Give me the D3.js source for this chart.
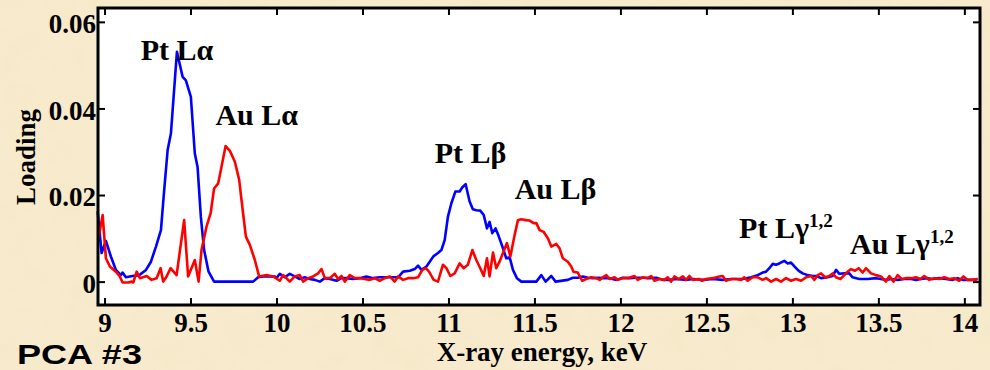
<!DOCTYPE html>
<html>
<head>
<meta charset="utf-8">
<script src="https://cdn.jsdelivr.net/npm/d3@7"></script>
<style>
  html, body { margin: 0; padding: 0; background: #f6e8c8; }
  svg { display: block; }
</style>
</head>
<body>
<div id="chart"></div>
<script>
// Pt (blue) loading: energy (keV) and loading value at each vertex
const ptEnergy = [8.960, 8.983, 9.008, 9.037, 9.066, 9.095, 9.105, 9.124, 9.163, 9.202, 9.241, 9.270, 9.299, 9.328, 9.347, 9.367, 9.386, 9.421, 9.454, 9.473, 9.502, 9.525, 9.541, 9.560, 9.579, 9.605, 9.637, 9.864, 9.893, 9.922, 9.961, 9.990, 10.000, 10.019, 10.048, 10.077, 10.106, 10.135, 10.164, 10.193, 10.223, 10.252, 10.281, 10.310, 10.349, 10.378, 10.407, 10.445, 10.484, 10.523, 10.561, 10.600, 10.639, 10.678, 10.707, 10.736, 10.775, 10.804, 10.823, 10.843, 10.872, 10.891, 10.914, 10.939, 10.959, 10.978, 10.997, 11.017, 11.040, 11.065, 11.081, 11.100, 11.123, 11.142, 11.162, 11.185, 11.205, 11.224, 11.239, 11.255, 11.274, 11.293, 11.317, 11.336, 11.356, 11.375, 11.398, 11.424, 11.511, 11.540, 11.565, 11.598, 11.623, 11.694, 11.723, 11.753, 11.782, 11.811, 11.840, 11.869, 11.898, 11.937, 11.976, 12.014, 12.053, 12.092, 12.130, 12.169, 12.208, 12.246, 12.285, 12.324, 12.382, 12.421, 12.479, 12.537, 12.595, 12.653, 12.711, 12.760, 12.798, 12.827, 12.847, 12.866, 12.886, 12.905, 12.924, 12.953, 12.973, 12.992, 13.012, 13.037, 13.060, 13.089, 13.118, 13.138, 13.167, 13.205, 13.234, 13.254, 13.273, 13.302, 13.331, 13.350, 13.389, 13.438, 13.486, 13.515, 13.544, 13.574, 13.612, 13.651, 13.690, 13.719, 13.748, 13.786, 13.815, 13.854, 13.893, 13.932, 13.961, 13.990, 14.019, 14.058, 14.077];
const ptLoading = [0.0162, 0.0066, 0.0094, 0.0058, 0.0027, 0.0015, 0.0021, 0.0010, 0.0013, 0.0015, 0.0027, 0.0046, 0.0081, 0.0119, 0.0212, 0.0304, 0.0342, 0.0531, 0.0473, 0.0465, 0.0427, 0.0296, 0.0265, 0.0150, 0.0073, 0.0023, 0.0000, 0.0000, 0.0010, 0.0012, 0.0012, 0.0012, 0.0008, 0.0018, 0.0010, 0.0018, 0.0012, 0.0006, 0.0010, 0.0006, 0.0004, 0.0000, 0.0008, 0.0006, 0.0002, 0.0008, 0.0008, 0.0006, 0.0008, 0.0012, 0.0008, 0.0010, 0.0010, 0.0010, 0.0010, 0.0023, 0.0025, 0.0029, 0.0037, 0.0027, 0.0035, 0.0046, 0.0059, 0.0066, 0.0073, 0.0096, 0.0150, 0.0181, 0.0208, 0.0208, 0.0218, 0.0225, 0.0185, 0.0167, 0.0165, 0.0164, 0.0154, 0.0123, 0.0138, 0.0112, 0.0123, 0.0104, 0.0077, 0.0054, 0.0056, 0.0027, 0.0008, 0.0000, 0.0000, 0.0015, 0.0000, 0.0013, 0.0000, 0.0004, 0.0009, 0.0009, 0.0012, 0.0009, 0.0008, 0.0009, 0.0008, 0.0008, 0.0004, 0.0009, 0.0008, 0.0009, 0.0009, 0.0008, 0.0009, 0.0004, 0.0004, 0.0006, 0.0004, 0.0006, 0.0004, 0.0006, 0.0004, 0.0006, 0.0006, 0.0010, 0.0015, 0.0021, 0.0023, 0.0031, 0.0041, 0.0039, 0.0042, 0.0048, 0.0042, 0.0044, 0.0035, 0.0025, 0.0019, 0.0015, 0.0013, 0.0013, 0.0008, 0.0010, 0.0013, 0.0027, 0.0018, 0.0019, 0.0019, 0.0010, 0.0006, 0.0006, 0.0008, 0.0006, 0.0004, 0.0006, 0.0004, 0.0006, 0.0006, 0.0004, 0.0006, 0.0008, 0.0006, 0.0008, 0.0006, 0.0004, 0.0008, 0.0004, 0.0004, 0.0004, 0.0006];

// Au (red) loading
const auEnergy = [8.963, 8.989, 9.008, 9.031, 9.066, 9.089, 9.105, 9.138, 9.157, 9.167, 9.187, 9.206, 9.245, 9.274, 9.303, 9.326, 9.341, 9.361, 9.384, 9.419, 9.463, 9.486, 9.525, 9.547, 9.564, 9.593, 9.617, 9.637, 9.661, 9.680, 9.704, 9.729, 9.758, 9.783, 9.802, 9.822, 9.845, 9.874, 9.899, 9.942, 9.980, 10.019, 10.038, 10.048, 10.077, 10.106, 10.135, 10.155, 10.184, 10.213, 10.242, 10.262, 10.281, 10.310, 10.339, 10.358, 10.378, 10.397, 10.426, 10.455, 10.484, 10.513, 10.542, 10.571, 10.600, 10.629, 10.658, 10.687, 10.707, 10.736, 10.765, 10.794, 10.823, 10.848, 10.868, 10.887, 10.914, 10.939, 10.968, 10.988, 11.011, 11.036, 11.065, 11.088, 11.113, 11.139, 11.162, 11.185, 11.205, 11.224, 11.239, 11.259, 11.278, 11.297, 11.317, 11.340, 11.360, 11.385, 11.404, 11.424, 11.449, 11.472, 11.495, 11.511, 11.530, 11.553, 11.578, 11.598, 11.627, 11.646, 11.665, 11.694, 11.714, 11.727, 11.752, 11.778, 11.801, 11.830, 11.859, 11.879, 11.898, 11.918, 11.937, 11.966, 11.985, 12.014, 12.043, 12.082, 12.101, 12.130, 12.159, 12.179, 12.198, 12.227, 12.256, 12.275, 12.295, 12.314, 12.339, 12.363, 12.382, 12.401, 12.421, 12.456, 12.475, 12.498, 12.537, 12.575, 12.595, 12.614, 12.644, 12.673, 12.702, 12.721, 12.740, 12.769, 12.798, 12.827, 12.847, 12.876, 12.905, 12.934, 12.963, 12.992, 13.021, 13.051, 13.080, 13.109, 13.128, 13.147, 13.167, 13.190, 13.215, 13.234, 13.254, 13.279, 13.302, 13.321, 13.341, 13.364, 13.385, 13.409, 13.428, 13.457, 13.486, 13.515, 13.544, 13.564, 13.588, 13.612, 13.635, 13.660, 13.690, 13.719, 13.744, 13.767, 13.796, 13.825, 13.854, 13.883, 13.912, 13.941, 13.970, 13.995, 14.018, 14.048, 14.077];
const auLoading = [0.0096, 0.0154, 0.0054, 0.0035, 0.0023, 0.0012, -0.0002, -0.0002, 0.0000, -0.0002, 0.0023, 0.0008, 0.0013, 0.0004, 0.0008, 0.0031, 0.0000, 0.0012, 0.0031, 0.0015, 0.0142, 0.0012, 0.0050, 0.0000, 0.0073, 0.0127, 0.0158, 0.0215, 0.0227, 0.0265, 0.0313, 0.0302, 0.0277, 0.0235, 0.0170, 0.0104, 0.0085, 0.0050, 0.0012, 0.0015, 0.0012, 0.0002, 0.0015, 0.0012, 0.0000, 0.0012, 0.0015, 0.0000, 0.0008, 0.0012, 0.0019, 0.0029, 0.0008, 0.0008, 0.0018, 0.0006, 0.0013, 0.0000, 0.0015, 0.0008, 0.0008, 0.0006, 0.0004, 0.0008, 0.0002, 0.0008, 0.0012, 0.0000, 0.0012, 0.0004, 0.0008, 0.0008, 0.0010, 0.0027, 0.0031, 0.0023, 0.0004, 0.0000, 0.0039, 0.0031, 0.0013, 0.0019, 0.0042, 0.0031, 0.0039, 0.0073, 0.0050, 0.0031, 0.0013, 0.0054, 0.0012, 0.0067, 0.0031, 0.0046, 0.0066, 0.0089, 0.0058, 0.0108, 0.0142, 0.0144, 0.0142, 0.0141, 0.0135, 0.0135, 0.0119, 0.0115, 0.0100, 0.0081, 0.0087, 0.0077, 0.0054, 0.0046, 0.0035, 0.0023, 0.0021, 0.0002, 0.0006, 0.0010, 0.0008, 0.0004, 0.0010, 0.0015, 0.0006, 0.0010, 0.0004, 0.0008, 0.0008, 0.0013, 0.0004, 0.0010, 0.0008, 0.0013, 0.0002, 0.0006, 0.0004, 0.0010, 0.0000, 0.0012, 0.0006, 0.0012, 0.0004, 0.0013, 0.0004, 0.0006, 0.0002, 0.0006, 0.0008, 0.0012, 0.0013, 0.0002, 0.0006, 0.0006, 0.0004, 0.0010, 0.0002, 0.0010, 0.0010, 0.0004, 0.0008, 0.0000, 0.0006, 0.0000, 0.0008, 0.0002, 0.0006, 0.0002, 0.0010, 0.0013, 0.0004, 0.0015, 0.0019, 0.0010, 0.0013, 0.0019, 0.0010, 0.0006, 0.0015, 0.0023, 0.0029, 0.0025, 0.0031, 0.0021, 0.0031, 0.0019, 0.0015, 0.0012, 0.0000, 0.0013, 0.0000, 0.0015, 0.0006, 0.0008, 0.0008, 0.0010, 0.0006, 0.0013, 0.0004, 0.0008, 0.0006, 0.0010, 0.0006, 0.0008, 0.0002, 0.0012, 0.0004, 0.0004, 0.0006];

const xTicks = [9, 9.5, 10, 10.5, 11, 11.5, 12, 12.5, 13, 13.5, 14];
const yTicks = [0, 0.02, 0.04, 0.06];

// peak labels: text, superscript, energy and loading where the label starts
const peakNames = ['Pt L\u03b1', 'Au L\u03b1', 'Pt L\u03b2', 'Au L\u03b2', 'Pt L\u03b3', 'Au L\u03b3'];
const peakSups = ['', '', '', '', '1,2', '1,2'];
const peakEnergy = [9.21, 9.645, 10.92, 11.385, 12.69, 13.335];
const peakLoading = [0.0511, 0.0361, 0.0274, 0.0191, 0.0101, 0.0064];

const width = 990, height = 370;
const margin = {top: 8, right: 10, bottom: 65, left: 98};

const svg = d3.select('#chart').append('svg')
  .attr('width', width)
  .attr('height', height);

// parchment background
const defs = svg.append('defs');
const filt = defs.append('filter').attr('id', 'paper')
  .attr('x', 0).attr('y', 0).attr('width', '100%').attr('height', '100%');
filt.append('feTurbulence')
  .attr('type', 'fractalNoise')
  .attr('baseFrequency', 0.035)
  .attr('numOctaves', 3)
  .attr('seed', 7);
filt.append('feColorMatrix')
  .attr('type', 'matrix')
  .attr('values', '0 0 0 0 0.80  0 0 0 0 0.68  0 0 0 0 0.45  0.9 0 0 0 -0.35');

svg.append('rect').attr('width', width).attr('height', height).attr('fill', '#f8ebcd');
svg.append('rect').attr('width', width).attr('height', height)
  .attr('filter', 'url(#paper)').attr('opacity', 0.3);

const x = d3.scaleLinear()
  .domain([8.962, 14.091])
  .range([margin.left, width - margin.right]);

const y = d3.scaleLinear()
  .domain([-0.0054, 0.0632])
  .range([height - margin.bottom, margin.top]);

// white plot area
svg.append('rect')
  .attr('x', x.range()[0]).attr('y', y.range()[1])
  .attr('width', x.range()[1] - x.range()[0])
  .attr('height', y.range()[0] - y.range()[1])
  .attr('fill', '#fff');

const line = d3.line()
  .x(d => x(d[0]))
  .y(d => y(d[1]));

const series = [
  {name: 'Pt', color: '#0000ff', points: d3.zip(ptEnergy, ptLoading)},
  {name: 'Au', color: '#ff0000', points: d3.zip(auEnergy, auLoading)}
];

svg.append('g')
  .selectAll('path')
  .data(series)
  .join('path')
  .attr('d', s => line(s.points))
  .attr('fill', 'none')
  .attr('stroke', s => s.color)
  .attr('stroke-width', 2.6)
  .attr('stroke-linejoin', 'round');

const fmtX = d => d3.format('~g')(d);
const fmtY = d => d === 0 ? '0' : d3.format('.2f')(d);

const tickFont = 'Liberation Serif, Times New Roman, serif';

svg.append('g')
  .attr('transform', `translate(0,${y.range()[0]})`)
  .call(d3.axisBottom(x).tickValues(xTicks).tickFormat(fmtX)
    .tickSizeInner(-7).tickSizeOuter(0).tickPadding(8));

svg.append('g')
  .attr('transform', `translate(0,${y.range()[1]})`)
  .call(d3.axisTop(x).tickValues(xTicks).tickFormat('')
    .tickSizeInner(-7).tickSizeOuter(0));

const yAxis = svg.append('g')
  .attr('transform', `translate(${x.range()[0]},0)`)
  .call(d3.axisLeft(y).tickValues(yTicks).tickFormat(fmtY)
    .tickSizeInner(-7).tickSizeOuter(0).tickPadding(2));

svg.append('g')
  .attr('transform', `translate(${x.range()[1]},0)`)
  .call(d3.axisRight(y).tickValues(yTicks).tickFormat('')
    .tickSizeInner(-7).tickSizeOuter(0));

svg.selectAll('.domain').remove();
svg.selectAll('.tick line').attr('stroke', '#000').attr('stroke-width', 2);
svg.selectAll('.tick text')
  .attr('fill', '#000')
  .style('font-family', tickFont)
  .style('font-weight', 'bold')
  .style('font-size', '27px');
yAxis.selectAll('.tick text').attr('dy', '0.4em');

// frame
svg.append('rect')
  .attr('x', x.range()[0]).attr('y', y.range()[1])
  .attr('width', x.range()[1] - x.range()[0])
  .attr('height', y.range()[0] - y.range()[1])
  .attr('fill', 'none')
  .attr('stroke', '#000')
  .attr('stroke-width', 3);

// axis titles
svg.append('text')
  .attr('x', (x.range()[0] + x.range()[1]) / 2 + 3)
  .attr('y', 361)
  .attr('text-anchor', 'middle')
  .style('font-family', tickFont)
  .style('font-weight', 'bold')
  .style('font-size', '27px')
  .text('X-ray energy, keV');

svg.append('text')
  .attr('transform', 'translate(35,157) rotate(-90)')
  .attr('text-anchor', 'middle')
  .style('font-family', tickFont)
  .style('font-weight', 'bold')
  .style('font-size', '27px')
  .text('Loading');

// peak labels
const labels = svg.append('g')
  .selectAll('text')
  .data(peakNames)
  .join('text')
  .attr('x', (d, i) => x(peakEnergy[i]))
  .attr('y', (d, i) => y(peakLoading[i]))
  .style('font-family', tickFont)
  .style('font-weight', 'bold')
  .style('font-size', '30px')
  .text(d => d);

labels.filter((d, i) => peakSups[i] !== '')
  .append('tspan')
  .attr('dy', -11)
  .style('font-size', '19px')
  .text('1,2');

// slide label
svg.append('text')
  .attr('x', 17)
  .attr('y', 364)
  .attr('textLength', 125)
  .attr('lengthAdjust', 'spacingAndGlyphs')
  .style('font-family', 'Liberation Sans, Arial, sans-serif')
  .style('font-weight', 'bold')
  .style('font-size', '28px')
  .text('PCA #3');
</script>
</body>
</html>
